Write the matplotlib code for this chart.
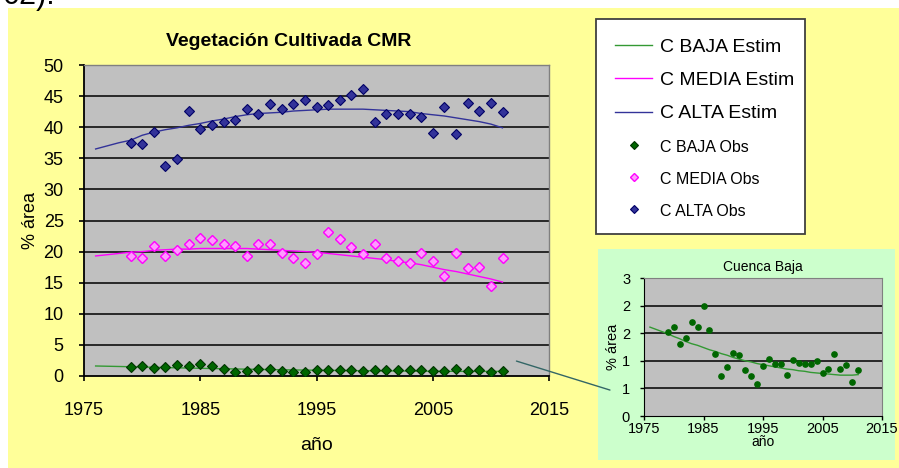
import matplotlib
matplotlib.use("Agg")
import matplotlib.pyplot as plt
from matplotlib.patches import Rectangle, ConnectionPatch

plt.rcParams['font.family'] = ['Liberation Sans', 'DejaVu Sans']

# observed years and fitted years
years_obs = list(range(1979, 2012))
years_est = list(range(1976, 2012))

# % area of cultivated vegetation per basin (observed)
alta_obs = [37.5, 37.3, 39.3, 33.8, 34.9, 42.6, 39.7, 40.4, 40.8, 41.2, 43.0,
            42.1, 43.7, 43.0, 43.7, 44.3, 43.2, 43.5, 44.3, 45.2, 46.1, 40.8,
            42.1, 42.1, 42.1, 41.7, 39.1, 43.2, 38.9, 43.9, 42.6, 43.9, 42.4]
media_obs = [19.3, 18.9, 20.9, 19.3, 20.2, 21.2, 22.2, 21.8, 21.3, 20.9, 19.3,
             21.2, 21.3, 19.8, 18.9, 18.1, 19.6, 23.1, 22.0, 20.7, 19.6, 21.3,
             18.9, 18.5, 18.1, 19.8, 18.5, 16.1, 19.8, 17.4, 17.6, 14.5, 18.9]
baja_obs = [1.52, 1.61, 1.30, 1.42, 1.71, 1.62, 2.00, 1.56, 1.13, 0.72, 0.88,
            1.14, 1.10, 0.83, 0.72, 0.58, 0.91, 1.03, 0.95, 0.95, 0.74, 1.01,
            0.96, 0.95, 0.95, 1.00, 0.77, 0.86, 1.13, 0.86, 0.92, 0.61, 0.83]

# fitted trends
alta_est = [36.5, 37.0, 37.5, 37.9, 38.7, 39.2, 39.6, 39.9, 40.3, 40.6, 41.0,
            41.3, 41.7, 42.0, 42.2, 42.3, 42.4, 42.6, 42.7, 42.8, 42.9, 42.9,
            42.9, 42.9, 42.8, 42.7, 42.6, 42.5, 42.2, 42.0, 41.8, 41.5, 41.2,
            40.9, 40.5, 39.9]
media_est = [19.3, 19.5, 19.7, 19.9, 20.0, 20.2, 20.3, 20.4, 20.4, 20.5, 20.5,
             20.5, 20.5, 20.5, 20.4, 20.3, 20.2, 20.1, 20.0, 19.9, 19.7, 19.5,
             19.3, 19.1, 18.9, 18.7, 18.4, 18.2, 17.9, 17.5, 17.1, 16.8, 16.4,
             16.0, 15.6, 15.1]
baja_est = [1.61, 1.57, 1.53, 1.49, 1.44, 1.40, 1.35, 1.31, 1.28, 1.24, 1.20,
            1.17, 1.13, 1.10, 1.06, 1.03, 1.00, 0.98, 0.95, 0.93, 0.91, 0.89,
            0.87, 0.85, 0.84, 0.82, 0.81, 0.79, 0.78, 0.77, 0.76, 0.75, 0.74,
            0.74, 0.74, 0.75]

x_ticks = [1975, 1985, 1995, 2005, 2015]
y_ticks_main = list(range(0, 51, 5))
y_ticks_inset = [0, 0.5, 1.0, 1.5, 2.0, 2.5]
y_ticklabels_inset = ["0", "1", "1", "2", "2", "3"]

W, H = 899, 468
fig = plt.figure(figsize=(W / 100, H / 100), dpi=100)
fig.patch.set_facecolor('white')

# yellow chart area
fig.add_artist(Rectangle((8 / W, 0), 1 - 8 / W, 1 - 8 / H, transform=fig.transFigure,
                         facecolor='#FFFF99', edgecolor='none', zorder=-10))
# end of the line of text above the chart
fig.text(55 / W, 1 - 4 / H, "02).", ha='right', va='baseline', fontsize=22)

# ---- main chart ----
ax = fig.add_axes([84 / W, 1 - 376 / H, 465 / W, 311 / H])
ax.set_facecolor('#C0C0C0')
for y in y_ticks_main[1:-1]:
    ax.axhline(y, color='black', lw=1.1, zorder=1)

l_baja, = ax.plot(years_est, baja_est, color='#339933', lw=1.0, zorder=2, label='C BAJA Estim')
l_media, = ax.plot(years_est, media_est, color='#FF00FF', lw=1.0, zorder=2, label='C MEDIA Estim')
l_alta, = ax.plot(years_est, alta_est, color='#333399', lw=1.0, zorder=2, label='C ALTA Estim')
m_baja, = ax.plot(years_obs, baja_obs, ls='none', marker='D', ms=5.6, mfc='#006600',
                  mec='#003300', mew=0.8, zorder=3, label='C BAJA Obs')
m_media, = ax.plot(years_obs, media_obs, ls='none', marker='D', ms=5.6, mfc='#FF99FF',
                   mec='#FF00FF', mew=1.0, zorder=3, label='C MEDIA Obs')
m_alta, = ax.plot(years_obs, alta_obs, ls='none', marker='D', ms=5.6, mfc='#333399',
                  mec='#000066', mew=0.8, zorder=3, label='C ALTA Obs')

ax.set_xlim(1975, 2015)
ax.set_ylim(0, 50)
ax.set_xticks(x_ticks)
ax.set_yticks(y_ticks_main)
ax.tick_params(direction='out', length=3.6, width=1.2, labelsize=13, color='black')
ax.tick_params(axis='y', pad=11)
ax.tick_params(axis='x', pad=15)
for s in ['left', 'bottom']:
    ax.spines[s].set_color('black')
    ax.spines[s].set_linewidth(1.3)
for s in ['top', 'right']:
    ax.spines[s].set_color('#808080')
    ax.spines[s].set_linewidth(1.0)
ax.set_xlabel('año', fontsize=14, labelpad=13)
ax.set_ylabel('% área', fontsize=13, labelpad=3)
ax.set_title('Vegetación Cultivada CMR', fontsize=14, fontweight='bold', pad=14, x=0.441)

# ---- legend (frame drawn separately) ----
fig.add_artist(Rectangle((596 / W, 1 - 234 / H), 209 / W, 215 / H, transform=fig.transFigure,
                         facecolor='white', edgecolor='#404040', lw=1.3, zorder=4))
leg = fig.legend(handles=[l_baja, l_media, l_alta, m_baja, m_media, m_alta],
                 loc='upper left', bbox_to_anchor=(596 / W, 1 - 19 / H), borderaxespad=0,
                 fontsize=14, frameon=False, handlelength=1.9, handletextpad=0.4,
                 labelspacing=0.8, borderpad=1.0, markerscale=0.7)
leg.set_zorder(5)
for t in leg.get_texts()[3:]:
    t.set_fontsize(11.5)

# ---- inset: lower basin ----
fig.add_artist(Rectangle((598 / W, 1 - 460 / H), 297 / W, 211 / H, transform=fig.transFigure,
                         facecolor='#CCFFCC', edgecolor='none', zorder=-5))
ax2 = fig.add_axes([644 / W, 1 - 416 / H, 238 / W, 138 / H])
ax2.set_facecolor('#C0C0C0')
for y in y_ticks_inset[1:-1]:
    ax2.axhline(y, color='black', lw=1.1, zorder=1)
ax2.plot(years_est, baja_est, color='#339933', lw=1.0, zorder=2)
ax2.plot(years_obs, baja_obs, ls='none', marker='o', ms=3.8, mfc='#006600',
         mec='#006600', zorder=3)
ax2.set_xlim(1975, 2015)
ax2.set_ylim(0, 2.5)
ax2.set_xticks(x_ticks)
ax2.set_yticks(y_ticks_inset)
ax2.set_yticklabels(y_ticklabels_inset)
ax2.tick_params(direction='out', length=3, width=1.0, labelsize=10.5, color='black')
ax2.tick_params(axis='y', pad=7)
ax2.tick_params(axis='x', pad=1.5)
for s in ['left', 'bottom']:
    ax2.spines[s].set_color('black')
for s in ['top', 'right']:
    ax2.spines[s].set_color('#808080')
ax2.set_xlabel('año', fontsize=10, labelpad=-1)
ax2.set_ylabel('% área', fontsize=10.5, labelpad=1)
ax2.set_title('Cuenca Baja', fontsize=10, pad=5)

# pointer from the low basin series to the inset
con = ConnectionPatch(xyA=(2012.2, 2.4), coordsA=ax.transData,
                      xyB=(-0.143, 0.188), coordsB=ax2.transAxes,
                      color='#336666', lw=1.0, zorder=10)
fig.add_artist(con)

fig.savefig('out.png', dpi=100)
